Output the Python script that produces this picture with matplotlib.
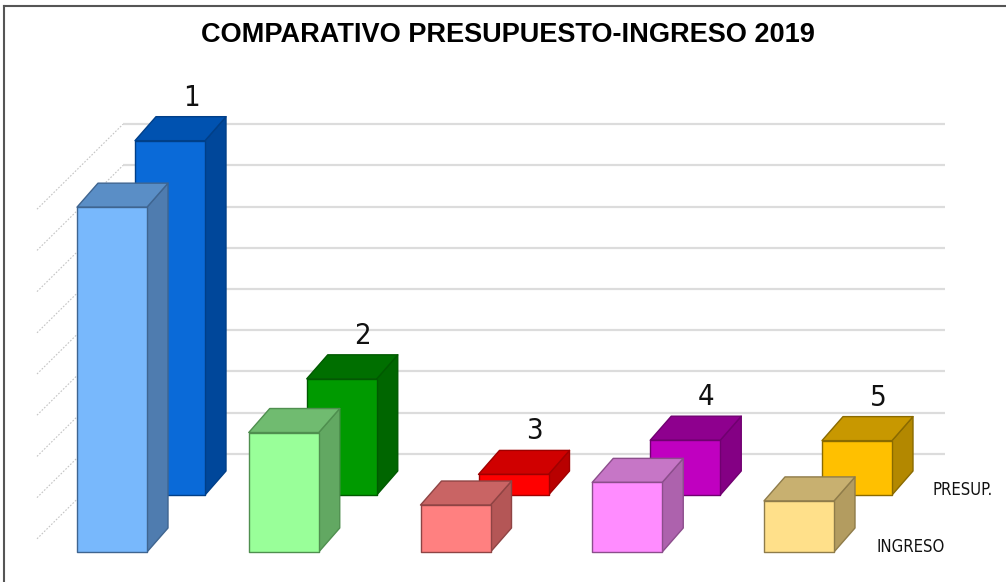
import matplotlib
matplotlib.use("Agg")
import matplotlib.pyplot as plt
from matplotlib.patches import Polygon
from matplotlib.lines import Line2D

# ---- data ----
categories = ["1", "2", "3", "4", "5"]
presupuesto = [8.6, 2.82, 0.5, 1.33, 1.32]   # back row (PRESUP.)
ingreso = [8.37, 2.90, 1.14, 1.69, 1.24]     # front row (INGRESO)
series_labels = ["PRESUP.", "INGRESO"]
title = "COMPARATIVO PRESUPUESTO-INGRESO 2019"
gridlines = [1, 2, 3, 4, 5, 6, 7, 8, 9]

# ---- colours: (face, top, side, edge) ----
back_colors = [
    ("#0a6ad8", "#0052b0", "#00479a", "#003f88"),
    ("#009a00", "#006f00", "#006600", "#005a00"),
    ("#ff0000", "#d00000", "#b80000", "#a00000"),
    ("#c000c0", "#8e008e", "#840084", "#700070"),
    ("#ffc000", "#c89800", "#b38800", "#8a6a00"),
]
front_colors = [
    ("#78b8fc", "#5a8ec6", "#4f7caf", "#3f6590"),
    ("#99ff99", "#70bb70", "#62a862", "#4f8f4f"),
    ("#ff8080", "#c96464", "#b45656", "#8f4444"),
    ("#ff8cff", "#c676c6", "#ad62ad", "#8c4e8c"),
    ("#ffe08a", "#c8b070", "#b39c60", "#8f7c4a"),
]

# ---- layout (pixel geometry of the oblique projection) ----
W, H = 1006, 582
PX_X = 171.75   # px per category step
PX_Y = 41.2     # px per value unit
X0_PX, Y0_PX = 170, 495   # centre of first back bar / back baseline
bar_w = 70 / PX_X
dep_x, dep_y = 21 / PX_X, 24 / PX_Y          # 3D depth of each box
row_dx, row_dy = -58 / PX_X, -57 / PX_Y      # offset of the front row
wall_x0, wall_x1 = 1 + (123 - X0_PX) / PX_X, 1 + (945 - X0_PX) / PX_X
side_dx, side_dy = -86 / PX_X, -85 / PX_Y

fig = plt.figure(figsize=(W / 100, H / 100), dpi=100)
fig.patch.set_facecolor("white")
ax = fig.add_axes([0, 0, 1, 1])
ax.set_xlim(1 - X0_PX / PX_X, 1 + (W - X0_PX) / PX_X)
ax.set_ylim(-(H - Y0_PX) / PX_Y, Y0_PX / PX_Y)
ax.axis("off")

# back wall gridlines and side wall lines
for g in gridlines:
    ax.plot([wall_x0, wall_x1], [g, g], color="#dcdcdc", lw=1.6, zorder=1,
            solid_capstyle="butt")
    ax.plot([wall_x0 + side_dx, wall_x0], [g + side_dy, g], color="#c4c4c4",
            lw=0.8, ls=(0, (1.5, 1.5)), zorder=1)


def box(xl, yb, h, cols, z):
    face, top, side, edge = cols
    pts_front = [(xl, yb), (xl + bar_w, yb), (xl + bar_w, yb + h), (xl, yb + h)]
    pts_top = [(xl, yb + h), (xl + bar_w, yb + h),
               (xl + bar_w + dep_x, yb + h + dep_y), (xl + dep_x, yb + h + dep_y)]
    pts_side = [(xl + bar_w, yb), (xl + bar_w + dep_x, yb + dep_y),
                (xl + bar_w + dep_x, yb + h + dep_y), (xl + bar_w, yb + h)]
    for pts, c in ((pts_side, side), (pts_top, top), (pts_front, face)):
        ax.add_patch(Polygon(pts, closed=True, facecolor=c, edgecolor=edge,
                             lw=1.0, joinstyle="round", zorder=z))


# back row
for i, (v, cols) in enumerate(zip(presupuesto, back_colors)):
    xc = 1 + i
    box(xc - bar_w / 2, 0, v, cols, 3 + i * 0.1)
    ax.text(xc + dep_x, v + dep_y + 5 / PX_Y, categories[i], ha="center",
            va="bottom", fontsize=21, family="DejaVu Sans", fontstretch="condensed",
            fontweight="light", color="#111111", zorder=6)

# front row
for i, (v, cols) in enumerate(zip(ingreso, front_colors)):
    xc = 1 + i + row_dx
    box(xc - bar_w / 2, row_dy, v, cols, 5 + i * 0.1)

# series labels
ax.text(1 + (933 - X0_PX) / PX_X, 0, series_labels[0], ha="left",
        va="baseline", fontsize=12, family="DejaVu Sans", fontstretch="condensed",
        color="#111111")
ax.text(1 + (877 - X0_PX) / PX_X, row_dy, series_labels[1], ha="left",
        va="baseline", fontsize=12, family="DejaVu Sans", fontstretch="condensed",
        color="#111111")

# title
fig.text(508 / W, 1 - 42 / H, title, ha="center", va="baseline",
         fontsize=19.5, fontweight="bold", family=["Liberation Sans", "DejaVu Sans"],
         color="black")

# outer frame (top and left edges visible)
fig.add_artist(Line2D([3.5 / W, 1], [1 - 6 / H, 1 - 6 / H], color="#555555", lw=1.5))
fig.add_artist(Line2D([3.5 / W, 3.5 / W], [0, 1 - 6 / H], color="#555555", lw=1.5))

fig.savefig("out.png", dpi=100, facecolor="white")
